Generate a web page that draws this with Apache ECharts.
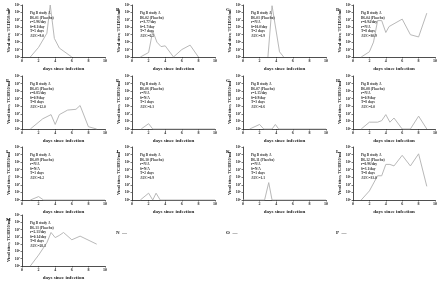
<!DOCTYPE html>
<html>
<head>
<meta charset="utf-8">
<script src="https://cdn.jsdelivr.net/npm/echarts@6/dist/echarts.min.js"></script>
<style>
  html, body { margin: 0; padding: 0; background: #fff; }
  #chart { width: 440px; height: 283px; }
</style>
</head>
<body>
<div id="chart"></div>
<script>
// day, log10 titer
var panelA = [[1,0],[2,1.3],[3,3.2],[3.4,7],[3.9,2.5],[4.5,1.2],[6,0]];
var panelB = [[1,0],[2,0.6],[2.5,3.5],[3,2],[3.5,1.4],[4,1.5],[5,0],[6,1],[7,1.6],[8,0]];
var panelC = [[3,0],[3.5,6.9],[4.4,0.7],[4.9,0]];
var panelD = [[1,0],[2,0.7],[2.5,2],[3,4.9],[3.5,4.9],[4,3.3],[4.4,4.1],[6,5.1],[7,3],[8,2.7],[9,5.9]];
var panelE = [[1,0],[2.5,1.35],[3.5,1.9],[4,0.6],[4.5,1.9],[5.5,2.5],[6.5,2.6],[7,3.1],[8,0.3],[9,0]];
var panelF = [[1.1,0],[2,0.7],[2.5,0],[10,0]];
var panelG = [[0.8,0],[2,0.6],[2.5,0],[3.5,0],[3.9,0.6],[4.3,0],[10,0]];
var panelH = [[1,0],[2,0.9],[3,0.9],[3.5,1.1],[4,1.9],[4.5,0.9],[5,1.45],[6,0],[7,0],[8,1.7],[9,0]];
var panelI = [[1,0],[2,0.45],[2.6,0],[10,0]];
var panelJ = [[1,0],[2,0.9],[2.5,0],[2.9,0.9],[3.4,0],[10,0]];
var panelK = [[0,0],[2.6,0],[3.1,2.3],[3.5,0],[10,0]];
var panelL = [[1,0],[2,1.2],[3,3.2],[3.5,3.2],[4,4.7],[4.5,4.7],[5,4.5],[6,5.9],[7,4.5],[8,6.1],[9,1.8]];
var panelM = [[1,0],[2,1.5],[3,3.2],[3.5,4.6],[4,3.9],[4.5,4.2],[5,4.6],[6,3.6],[7,4.1],[9,3]];

var panelLetters = ['A','B','C','D','E','F','G','H','I','J','K','L','M'];
var panelData = [panelA,panelB,panelC,panelD,panelE,panelF,panelG,panelH,panelI,panelJ,panelK,panelL,panelM];
var panelNotes = [
  'Pig B study A\nB6-01 (Placebo)\nr=5.96/day\n\u03b4=8.1/day\nT=5 days\nAUC=9.0',
  'Pig B study A\nB6-02 (Placebo)\nr=3.77/day\n\u03b4=1.7/day\nT=7 days\nAUC=6.2',
  'Pig B study A\nB6-03 (Placebo)\nr=N/A\n\u03b4=10.0/day\nT=2 days\nAUC=6.9',
  'Pig B study A\nB6-04 (Placebo)\nr=0.94/day\nr=N/A\nT=8 days\nAUC=30.9',
  'Pig B study A\nB6-05 (Placebo)\nr=0.85/day\n\u03b4=0.9/day\nT=8 days\nAUC=12.0',
  'Pig B study A\nB6-06 (Placebo)\nr=N/A\n\u03b4=N/A\nT=1 days\nAUC=0.3',
  'Pig B study A\nB6-07 (Placebo)\nr=1.15/day\n\u03b4=0.9/day\nT=3 days\nAUC=0.6',
  'Pig B study A\nB6-08 (Placebo)\nr=N/A\n\u03b4=0.9/day\nT=8 days\nAUC=6.0',
  'Pig B study A\nB6-09 (Placebo)\nr=N/A\n\u03b4=N/A\nT=1 days\nAUC=0.2',
  'Pig B study A\nB6-10 (Placebo)\nr=N/A\n\u03b4=N/A\nT=2 days\nAUC=0.9',
  'Pig B study A\nB6-11 (Placebo)\nr=N/A\n\u03b4=N/A\nT=1 days\nAUC=1.1',
  'Pig B study A\nB6-12 (Placebo)\nr=0.96/day\n\u03b4=3.1/day\nT=8 days\nAUC=33.0',
  'Pig B study A\nB6-13 (Placebo)\nr=2.13/day\n\u03b4=0.14/day\nT=8 days\nAUC=28.3'
];

var colLeft = [22, 132, 243, 353];
var rowTop = [5, 76, 147, 215];
var rowHeight = [52, 53, 53, 51];
var plotWidth = 83;
var serif = 'Liberation Serif';

var grids = [], xAxes = [], yAxes = [], series = [], titles = [];
panelData.forEach(function (data, i) {
  var col = i % 4, row = Math.floor(i / 4);
  grids.push({left: colLeft[col], top: rowTop[row], width: plotWidth, height: rowHeight[row]});
  xAxes.push({
    type: 'value', gridIndex: i, min: 0, max: 10, interval: 2,
    name: 'days since infection', nameLocation: 'middle', nameGap: 9,
    nameTextStyle: {fontFamily: serif, fontSize: 5, fontWeight: 'bold', color: '#222'},
    axisLine: {lineStyle: {color: '#222', width: 0.8}},
    axisTick: {length: 1.5, lineStyle: {color: '#222', width: 0.6}},
    axisLabel: {fontFamily: serif, fontSize: 4, fontWeight: 'bold', color: '#222', margin: 2},
    splitLine: {show: false}
  });
  yAxes.push({
    type: 'value', gridIndex: i, min: 0, max: 7, interval: 1,
    name: 'Viral titer, TCID50/ml', nameLocation: 'middle', nameGap: 11, nameRotate: 90,
    nameTextStyle: {fontFamily: serif, fontSize: 4.5, fontWeight: 'bold', color: '#222'},
    axisLine: {show: true, lineStyle: {color: '#222', width: 0.8}},
    axisTick: {show: true, length: 1.5, lineStyle: {color: '#222', width: 0.6}},
    axisLabel: {
      margin: 2, fontFamily: serif, fontSize: 4, color: '#222', fontWeight: 'bold',
      formatter: function (v) { return '10{s|' + v + '}'; },
      rich: {s: {fontSize: 2.5, verticalAlign: 'top', fontFamily: serif, color: '#222', padding: [0, 0, 2, 0]}}
    },
    splitLine: {show: false}
  });
  series.push({
    type: 'line', xAxisIndex: i, yAxisIndex: i, data: data,
    showSymbol: false, symbol: 'none',
    lineStyle: {color: '#b0b0b0', width: 0.9}
  });
  titles.push({
    text: panelLetters[i], left: col * 110 + 1, top: rowTop[row] - 3,
    textStyle: {fontFamily: serif, fontSize: 5, fontWeight: 'bold', color: '#222'}
  });
  titles.push({
    text: panelNotes[i], left: colLeft[col] + 3, top: rowTop[row] + 1,
    textStyle: {fontFamily: serif, fontSize: 3.5, lineHeight: 4.5, fontWeight: 'bold', color: '#333'}
  });
});
['N', 'O', 'P'].forEach(function (l, k) {
  titles.push({
    text: l + '  \u2014', left: (k + 1) * 110 + 1, top: 225,
    textStyle: {fontFamily: serif, fontSize: 5, fontWeight: 'bold', color: '#222'}
  });
});

var myChart = echarts.init(document.getElementById('chart'), null, {renderer: 'canvas'});
myChart.setOption({
  backgroundColor: '#fff',
  animation: false,
  title: titles,
  grid: grids,
  xAxis: xAxes,
  yAxis: yAxes,
  series: series
});
</script>
</body>
</html>
